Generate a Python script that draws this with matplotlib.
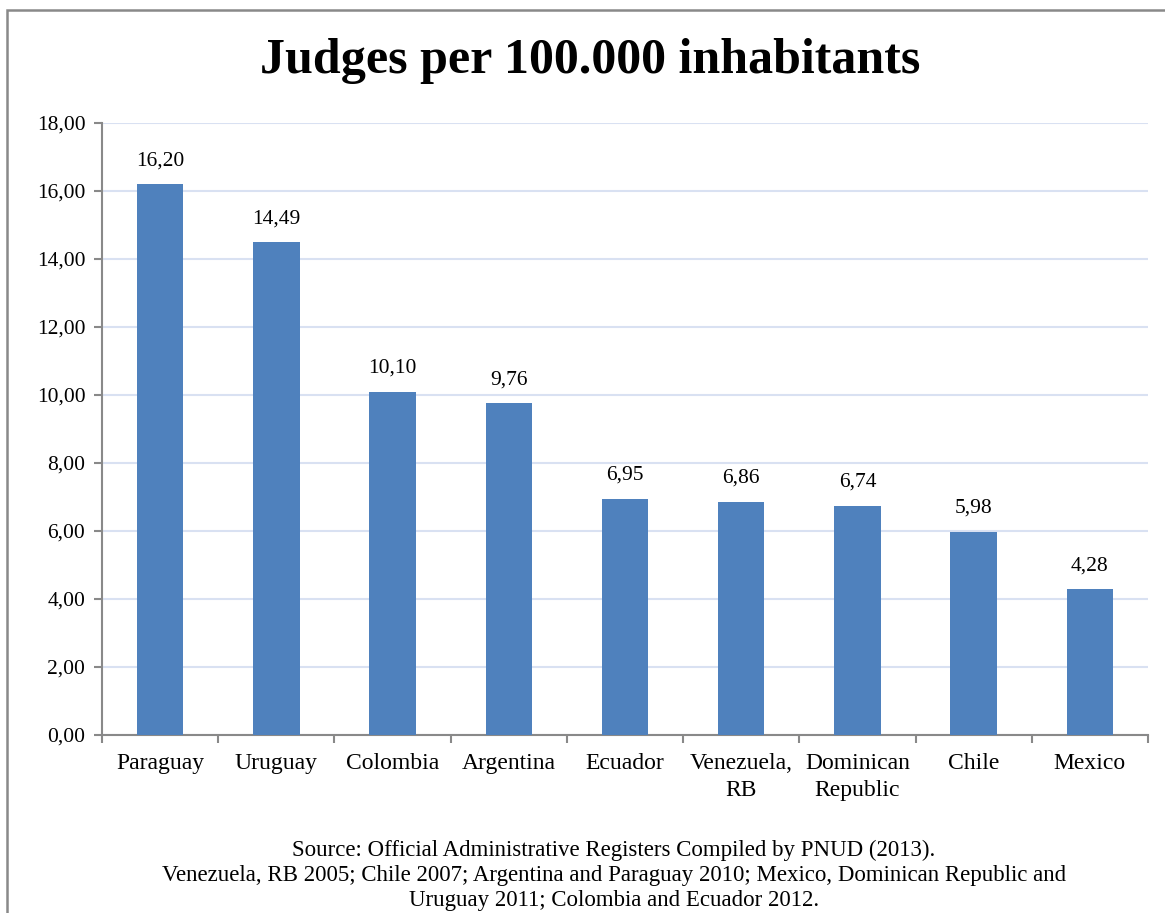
import matplotlib.pyplot as plt
from matplotlib.patches import Rectangle
from matplotlib.ticker import FixedLocator, FuncFormatter

countries = ["Paraguay", "Uruguay", "Colombia", "Argentina", "Ecuador",
             "Venezuela,\nRB", "Dominican\nRepublic", "Chile", "Mexico"]
judges = [16.20, 14.49, 10.10, 9.76, 6.95, 6.86, 6.74, 5.98, 4.28]
y_ticks = [0, 2, 4, 6, 8, 10, 12, 14, 16, 18]

title = "Judges per 100.000 inhabitants"
source = ("Source: Official Administrative Registers Compiled by PNUD (2013).\n"
          "Venezuela, RB 2005; Chile 2007; Argentina and Paraguay 2010; Mexico, Dominican Republic and\n"
          "Uruguay 2011; Colombia and Ecuador 2012.")


def comma(v, pos=None):
    return f"{v:.2f}".replace(".", ",")


def main():
    plt.rcParams["font.family"] = ["Liberation Serif", "DejaVu Serif"]
    W, H = 1165, 913
    fig = plt.figure(figsize=(W / 100, H / 100), dpi=100)

    # outer chart frame (right and bottom edges are cut off in the original)
    fig.patches.append(Rectangle((7 / W, -0.1), 1.2, 1 - 10 / H + 0.1,
                                 transform=fig.transFigure, fill=False,
                                 edgecolor="#898989", linewidth=1.8))

    ax = fig.add_axes([102 / W, 1 - 735 / H, (1148 - 102) / W, (735 - 123) / H])
    x = range(len(countries))
    ax.bar(x, judges, width=0.4, color="#4f81bd", zorder=3)
    for xi, v in zip(x, judges):
        ax.annotate(comma(v), (xi, v), xytext=(0, 10), textcoords="offset points",
                    ha="center", va="bottom", fontsize=15.5)

    ax.set_xlim(-0.5, len(countries) - 0.5)
    ax.set_ylim(0, 18)
    ax.set_yticks(y_ticks)
    ax.yaxis.set_major_formatter(FuncFormatter(comma))
    ax.grid(axis="y", color="#d9e1f2", linewidth=1.5, zorder=0)

    # category labels centered, ticks between categories
    ax.set_xticks(list(x))
    ax.set_xticklabels(countries, fontsize=17, linespacing=1.4)
    ax.tick_params(axis="x", length=0, pad=13)
    ax.xaxis.set_minor_locator(FixedLocator([i - 0.5 for i in range(len(countries) + 1)]))
    ax.tick_params(axis="x", which="minor", length=6, width=1.5, color="#898989")
    ax.tick_params(axis="y", length=6, width=1.5, color="#898989", labelsize=15.5, pad=6)

    for side in ["top", "right"]:
        ax.spines[side].set_visible(False)
    for side in ["left", "bottom"]:
        ax.spines[side].set_color("#898989")
        ax.spines[side].set_linewidth(1.5)

    fig.text(590 / W, 1 - 61 / H, title, ha="center", va="center",
             fontsize=36, fontweight="bold")
    fig.text(614 / W, 1 - 840 / H, source, ha="center", va="top",
             fontsize=16.5, linespacing=1.25)

    fig.savefig("out.png", dpi=100)


if __name__ == "__main__":
    main()
